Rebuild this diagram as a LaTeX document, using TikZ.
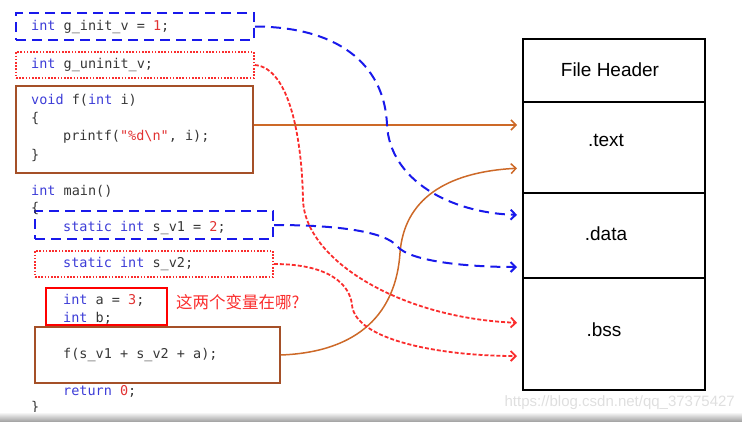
\documentclass[tikz,border=0pt]{standalone}
\usepackage{fontspec}
\setmainfont{Liberation Sans}
\setmonofont{DejaVu Sans Mono}
\newfontfamily\cjk{Noto Sans CJK SC}
\usetikzlibrary{arrows.meta}

\definecolor{kwblue}{RGB}{60,60,215}
\definecolor{litred}{RGB}{225,50,50}
\definecolor{idgray}{RGB}{55,55,55}
\definecolor{linkblue}{RGB}{25,25,235}
\definecolor{linkred}{RGB}{250,45,45}
\definecolor{boxbrown}{RGB}{165,80,40}
\definecolor{linkbrown}{RGB}{205,105,40}

\newcommand{\kwd}[1]{\textcolor{kwblue}{#1}}
\newcommand{\lit}[1]{\textcolor{litred}{#1}}

\tikzset{
  code/.style={anchor=west, inner sep=0pt, text=idgray, font=\fontsize{13.5}{16}\selectfont\ttfamily},
  bluebox/.style={draw=linkblue, line width=2pt, dash pattern=on 10pt off 6pt, minimum width=#1},
  redbox/.style={draw=linkred, line width=1.6pt, dash pattern=on 1.6pt off 1.6pt, minimum width=#1},
  brownbox/.style={draw=boxbrown, line width=1.5pt, minimum width=#1},
  section/.style={draw=black, line width=2pt, minimum width=182pt, inner sep=0pt},
  seclabel/.style={font=\fontsize{19}{22}\selectfont},
  tip/.style={-{Straight Barb[length=5pt,width=10pt]}, shorten >=5pt},
  bluelink/.style={tip, draw=linkblue, line width=2pt, dash pattern=on 10pt off 6pt},
  redlink/.style={tip, draw=linkred, line width=1.8pt, dash pattern=on 4pt off 2pt},
  brownlink/.style={tip, draw=linkbrown, line width=1.5pt},
}

\begin{document}
\begin{tikzpicture}[x=1pt, y=-1pt]
  \useasboundingbox (0,0) rectangle (742,421);

  % source code boxes
  \node[bluebox=238pt, minimum height=27pt] (g1) at (135,26.5) {};
  \node[redbox=238pt, minimum height=26pt] (g2) at (135,65) {};
  \node[brownbox=237pt, minimum height=87pt] (voidf) at (134.5,129.5) {};
  \node[bluebox=238pt, minimum height=28pt] (s1) at (154,225) {};
  \node[redbox=238pt, minimum height=26pt] (s2) at (154,264) {};
  \node[draw=red, line width=2pt, minimum width=121pt, minimum height=37pt] (ab) at (106.5,306.5) {};
  \node[brownbox=245pt, minimum height=56pt] (fcall) at (157.5,355) {};

  % source code
  \node[code] (l1) at (31,27) {\kwd{int} g\_init\_v = \lit{1};};
  \node[code] (l2) at (31,65) {\kwd{int} g\_uninit\_v;};
  \node[code] (l3) at (31,100) {\kwd{void} f(\kwd{int} i)};
  \node[code] (l4) at (31,118) {\{};
  \node[code] (l5) at (63,137) {printf(\lit{"\%d\textbackslash n"}, i);};
  \node[code] (l6) at (31,155) {\}};
  \node[code] (l7) at (31,191) {\kwd{int} main()};
  \node[code] (l8) at (31,208) {\{};
  \node[code] (l9) at (63,228) {\kwd{static} \kwd{int} s\_v1 = \lit{2};};
  \node[code] (l10) at (63,264) {\kwd{static} \kwd{int} s\_v2;};
  \node[code] (l11) at (63,300) {\kwd{int} a = \lit{3};};
  \node[code] (l12) at (63,318) {\kwd{int} b;};
  \node[code] (l13) at (63,355) {f(s\_v1 + s\_v2 + a);};
  \node[code] (l14) at (63,391) {\kwd{return} \lit{0};};
  \node[code] (l15) at (31,407) {\}};
  \node[anchor=west, inner sep=0pt, text=linkred, font=\cjk\fontsize{16.5}{20}\selectfont] (ask) at (176,302) {这两个变量在哪?};

  % object file layout
  \node[section, minimum height=63pt] (hdr) at (614,70.5) {};
  \node[section, minimum height=91pt] (txt) at (614,147.5) {};
  \node[section, minimum height=85pt] (dat) at (614,235.5) {};
  \node[section, minimum height=112pt] (bss) at (614,334) {};
  \node[seclabel] (hdrlabel) at (610,70) {File Header};
  \node[seclabel] (txtlabel) at (606,140) {.text};
  \node[seclabel] (datlabel) at (606,234) {.data};
  \node[seclabel] (bsslabel) at (604,330) {.bss};

  \coordinate (t1) at ([yshift=22.5pt]txt.west);
  \coordinate (t2) at ([yshift=-20.5pt]txt.west);
  \coordinate (d1) at ([yshift=20.5pt]dat.west);
  \coordinate (d2) at ([yshift=-31.5pt]dat.west);
  \coordinate (b1) at ([yshift=11pt]bss.west);
  \coordinate (b2) at ([yshift=-22pt]bss.west);

  % links
  \draw[brownlink] (voidf.east |- t1) -- (t1);
  \draw[brownlink] (fcall.east) .. controls (360,352) and (396,312) .. (400,253)
    .. controls (404,200) and (445,172) .. (t2);
  \draw[bluelink] (g1.east) .. controls (345,27) and (385,70) .. (387,125)
    .. controls (390,180) and (450,213) .. (d1);
  \draw[bluelink] (s1.east) .. controls (340,225) and (385,232) .. (397,246)
    .. controls (410,262) and (470,267) .. (d2);
  \draw[redlink] (g2.east) .. controls (290,68) and (302,140) .. (303,200)
    .. controls (305,260) and (400,318) .. (b1);
  \draw[redlink] (s2.east) .. controls (330,264) and (350,285) .. (352,305)
    .. controls (355,340) and (440,356) .. (b2);

  % watermark and page shadow
  \node[anchor=east, inner sep=0pt, text=gray!25, font=\fontsize{15}{18}\selectfont] (mark) at (735,403) {https://blog.csdn.net/qq\_37375427};
  \shade[top color=white, bottom color=gray!70] (0,412) rectangle (742,421);
\end{tikzpicture}
\end{document}
